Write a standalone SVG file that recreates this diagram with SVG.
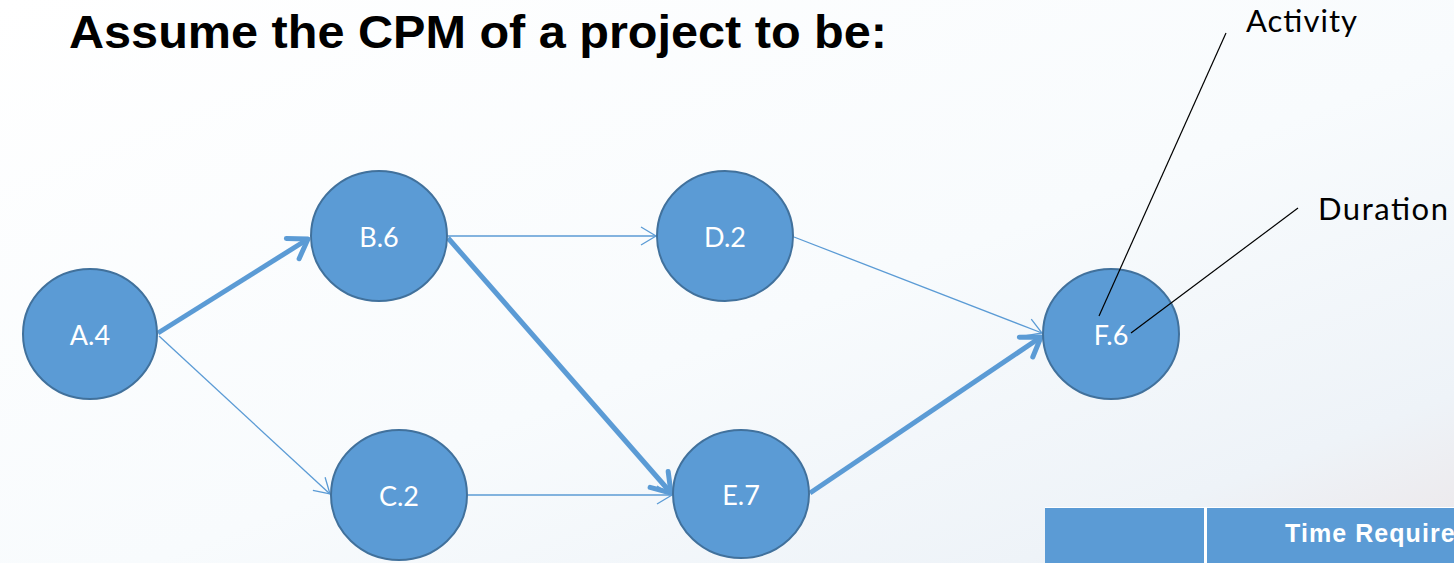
<svg xmlns="http://www.w3.org/2000/svg" width="1454" height="563" viewBox="0 0 1454 563">
  <defs>
    <linearGradient id="bg" x1="0" y1="0" x2="1" y2="1">
      <stop offset="0" stop-color="#ffffff"/>
      <stop offset="0.55" stop-color="#f8fbfd"/>
      <stop offset="0.85" stop-color="#eef3f8"/>
      <stop offset="1" stop-color="#ece6e8"/>
    </linearGradient>
    <marker id="arrow-thin" markerUnits="userSpaceOnUse" markerWidth="20" markerHeight="20" refX="16" refY="9" orient="auto" overflow="visible">
      <path d="M1,0 L16,9 L1,18" fill="none" stroke="#5B9BD5" stroke-width="1.3"/>
    </marker>
    <marker id="arrow-thick" markerUnits="userSpaceOnUse" markerWidth="30" markerHeight="30" refX="21" refY="13" orient="auto" overflow="visible">
      <path d="M3,1 L21,13 L3,25" fill="none" stroke="#5B9BD5" stroke-width="5" stroke-linecap="round" stroke-linejoin="round"/>
    </marker>
  </defs>
  <style>
    .node ellipse { fill: #5B9BD5; stroke: #41719C; stroke-width: 2; }
    .node text { fill: #ffffff; font-family: "Lato", "Liberation Sans", sans-serif; font-size: 27px; text-anchor: middle; }
    .thin { stroke: #5B9BD5; stroke-width: 1.3; fill: none; marker-end: url(#arrow-thin); }
    .thick { stroke: #5B9BD5; stroke-width: 5; fill: none; marker-end: url(#arrow-thick); }
    .callout { stroke: #000000; stroke-width: 1.2; fill: none; }
    .label { fill: #000000; font-family: "Lato", "Liberation Sans", sans-serif; font-size: 31px; }
  </style>

  <rect width="1454" height="563" fill="url(#bg)"/>

  <text x="69" y="48" font-family="Liberation Sans, Arial, sans-serif" font-weight="bold" font-size="46" fill="#000000" textLength="818" lengthAdjust="spacingAndGlyphs">Assume the CPM of a project to be:</text>

  <g id="connectors">
    <line class="thick" x1="158" y1="333" x2="308" y2="239"/>
    <line class="thin" x1="159" y1="336" x2="330" y2="494"/>
    <line class="thin" x1="448" y1="236" x2="656" y2="236"/>
    <line class="thick" x1="448" y1="238" x2="671" y2="493"/>
    <line class="thin" x1="468" y1="495" x2="672" y2="495"/>
    <line class="thin" x1="794" y1="237" x2="1042" y2="333"/>
    <line class="thick" x1="810" y1="493" x2="1041" y2="337"/>
  </g>

  <g id="node-a" class="node">
    <ellipse cx="90" cy="334" rx="67" ry="65"/>
    <text x="90" y="345">A.4</text>
  </g>
  <g id="node-b" class="node">
    <ellipse cx="379" cy="236" rx="68" ry="65"/>
    <text x="379" y="247">B.6</text>
  </g>
  <g id="node-c" class="node">
    <ellipse cx="399" cy="495" rx="68" ry="65"/>
    <text x="399" y="506">C.2</text>
  </g>
  <g id="node-d" class="node">
    <ellipse cx="725" cy="236" rx="68" ry="65"/>
    <text x="725" y="247">D.2</text>
  </g>
  <g id="node-e" class="node">
    <ellipse cx="741" cy="494" rx="68" ry="64"/>
    <text x="741" y="505">E.7</text>
  </g>
  <g id="node-f" class="node">
    <ellipse cx="1111" cy="334" rx="68" ry="65"/>
    <text x="1111" y="345">F.6</text>
  </g>

  <g id="callouts">
    <line class="callout" x1="1226" y1="33" x2="1099" y2="316"/>
    <line class="callout" x1="1298" y1="208" x2="1131" y2="333"/>
    <text class="label" x="1246" y="32" textLength="111">Activity</text>
    <text class="label" x="1318" y="220" textLength="130">Duration</text>
  </g>

  <g id="table-header">
    <rect x="1045" y="507" width="409" height="56" fill="#5B9BD5"/>
    <line x1="1045" y1="507.5" x2="1454" y2="507.5" stroke="#ffffff" stroke-width="1"/>
    <line x1="1205.5" y1="507" x2="1205.5" y2="563" stroke="#ffffff" stroke-width="3"/>
    <text x="1285" y="542" fill="#ffffff" font-family="Liberation Sans, Arial, sans-serif" font-weight="bold" font-size="25" textLength="186">Time Required</text>
  </g>
</svg>
